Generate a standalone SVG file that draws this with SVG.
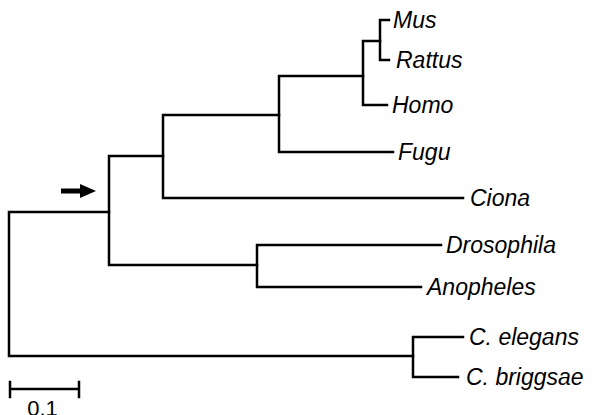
<svg xmlns="http://www.w3.org/2000/svg" width="593" height="415" viewBox="0 0 593 415">
<style>
.br{fill:none;stroke:#000;stroke-width:2.5;stroke-linecap:square;stroke-linejoin:miter}
.lb{font-family:"Liberation Sans",Arial,sans-serif;font-size:23px;font-style:italic;fill:#000}
.sc{font-family:"Liberation Sans",Arial,sans-serif;font-size:22px;fill:#000}
</style>
<rect width="593" height="415" fill="#fff"/>
<g id="connectors">
<path class="br" d="M9,212 H109 M9,212 V356 H413"/>
<path class="br" d="M109,156 V265 M109,156 H163 M109,265 H257"/>
<path class="br" d="M163,115 V198 M163,115 H279 M163,198 H463"/>
<path class="br" d="M279,76 V152 M279,76 H363 M279,152 H393"/>
<path class="br" d="M363,41 V105 M363,41 H380 M363,105 H387"/>
<path class="br" d="M380,20 V60 M380,20 H389 M380,60 H389"/>
<path class="br" d="M257,245 V287 M257,245 H441 M257,287 H421"/>
<path class="br" d="M413,337 V377 M413,337 H463 M413,377 H458"/>
</g>
<g id="leaf-mus"><text class="lb" x="393" y="28">Mus</text></g>
<g id="leaf-rattus"><text class="lb" x="396" y="68">Rattus</text></g>
<g id="leaf-homo"><text class="lb" x="392" y="113">Homo</text></g>
<g id="leaf-fugu"><text class="lb" x="398" y="160">Fugu</text></g>
<g id="leaf-ciona"><text class="lb" x="470" y="206">Ciona</text></g>
<g id="leaf-drosophila"><text class="lb" x="446" y="253">Drosophila</text></g>
<g id="leaf-anopheles"><text class="lb" x="427" y="295">Anopheles</text></g>
<g id="leaf-celegans"><text class="lb" x="469" y="345">C. elegans</text></g>
<g id="leaf-cbriggsae"><text class="lb" x="466" y="385">C. briggsae</text></g>
<g id="arrow">
<rect x="61" y="188.5" width="20" height="5" fill="#000"/>
<polygon points="80,184 96,191 80,198" fill="#000"/>
</g>
<g id="scalebar">
<path class="br" d="M10,389 H79 M10,382 V397 M79,382 V397"/>
<text class="sc" x="42.5" y="416" text-anchor="middle">0.1</text>
</g>
</svg>
